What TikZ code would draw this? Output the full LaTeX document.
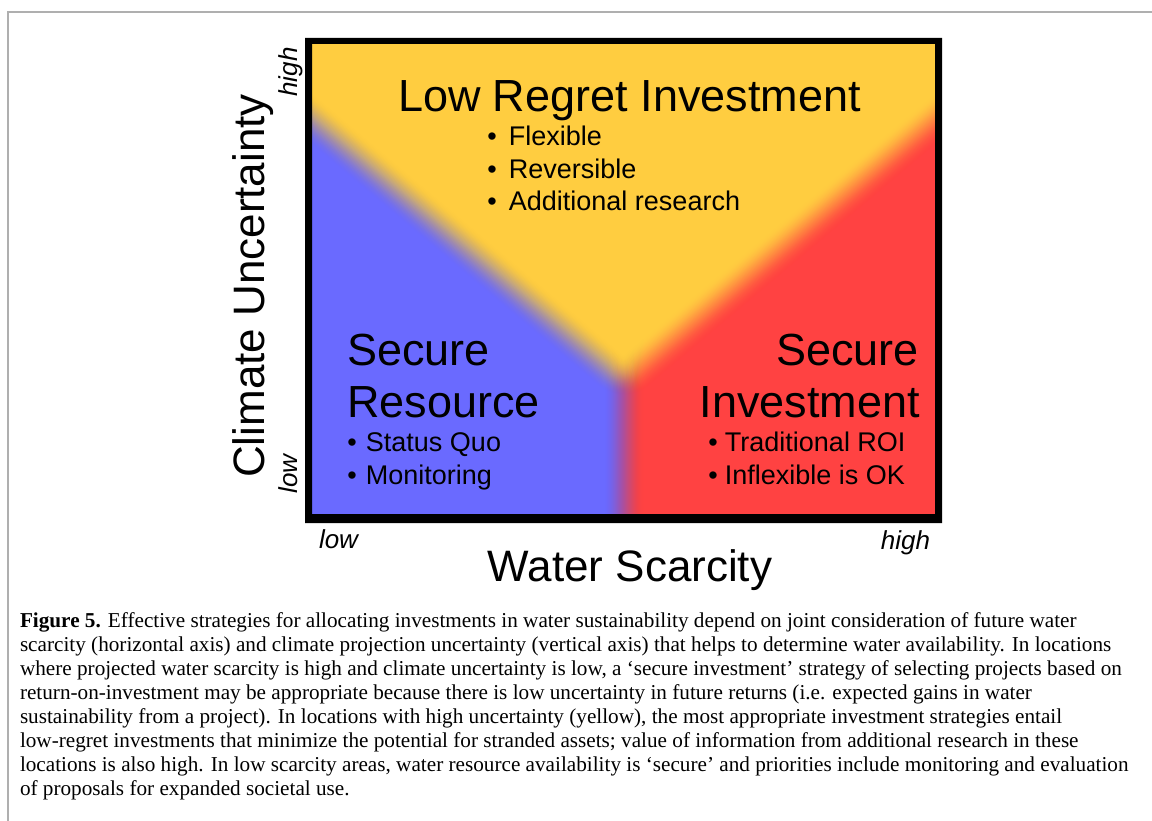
\documentclass[tikz,border=0pt]{standalone}
\usepackage{fontspec}
\setmainfont{Liberation Serif}
\newfontfamily\arialfont{Liberation Sans}
\definecolor{zoneyellow}{RGB}{255,205,64}
\definecolor{zoneblue}{RGB}{106,106,255}
\definecolor{zonered}{RGB}{255,66,66}
\definecolor{pageline}{RGB}{175,175,175}
\newcommand\bulgap[1]{\textbullet\hspace{#1pt}}
% smoothstep opacity for layer k of 40 soft-edge strokes
\newcommand\softop[1]{1-(3*((#1-0.5)/40)^2-2*((#1-0.5)/40)^3)/(3*(min(1,(#1+0.5)/40))^2-2*(min(1,(#1+0.5)/40))^3)}
\begin{document}
\begin{tikzpicture}[x=1pt,y=-1pt,
  every node/.style={inner sep=0pt, outer sep=0pt},
  heading/.style={font=\arialfont\fontsize{45}{45}\selectfont},
  bulletline/.style={font=\arialfont\fontsize{27}{27}\selectfont, anchor=base west},
  axislabel/.style={font=\arialfont\fontsize{44}{44}\selectfont},
  ticklabel/.style={font=\arialfont\itshape\fontsize{26}{26}\selectfont},
  captionline/.style={font=\fontsize{21.2}{21.2}\selectfont, anchor=base west},
  softedge/.style={line join=round, line cap=round},
]
\useasboundingbox (0,0) rectangle (1152,821);

% page rule (top and left)
\draw[pageline, line width=1.3pt] (8,821) -- (8,12) -- (1152,12);

% ---- coloured quadrants with soft boundaries ----
\begin{scope}
  \clip (312,44) rectangle (935,514);
  \fill[zoneblue] (312,44) rectangle (935,514);
  % red zone (right of the vertical split), blurred outward
  \fill[zonered] (643.5,-100) rectangle (1100,700);
  \foreach \k [evaluate=\k as \op using {\softop{\k}}, evaluate=\k as \lw using 2*\k] in {40,39,...,1}
    \draw[zonered, softedge, line width=\lw pt, opacity=\op] (643.5,-100) rectangle (1100,700);
  % yellow V (low regret zone), blurred outward
  \fill[zoneyellow] (200,-0.2) -- (623.5,355.9) -- (1047,-0.2) -- (1047,-100) -- (200,-100) -- cycle;
  \foreach \k [evaluate=\k as \op using {\softop{\k}}, evaluate=\k as \lw using 2*\k] in {40,39,...,1}
    \draw[zoneyellow, softedge, line width=\lw pt, opacity=\op]
      (200,-0.2) -- (623.5,355.9) -- (1047,-0.2) -- (1047,-100) -- (200,-100) -- cycle;
\end{scope}

% black frame
\fill[black, even odd rule] (305,38) rectangle (942,523) (312,44) rectangle (935,514);

% ---- zone texts ----
\node[heading, anchor=base west] (lowregret) at (398,112) {Low Regret Investment};
\node[bulletline] (flex) at (487.3,146) {\bulgap{12.2}Flexible};
\node[bulletline] (rev)  at (487.3,179) {\bulgap{12.2}Reversible};
\node[bulletline] (addr) at (487.3,211) {\bulgap{12.2}Additional research};

\node[heading, anchor=base west] (secres1) at (347,365) {Secure};
\node[heading, anchor=base west] (secres2) at (347,417) {Resource};
\node[bulletline] (statq) at (347.3,451) {\bulgap{9.2}Status Quo};
\node[bulletline] (monit) at (347.3,484) {\bulgap{9.2}Monitoring};

\node[heading, anchor=base east] (secinv1) at (919,365) {Secure};
\node[heading, anchor=base east] (secinv2) at (920,417) {Investment};
\node[bulletline] (troi) at (708.3,451) {\bulgap{7.2}Traditional ROI};
\node[bulletline] (infl) at (708.3,484) {\bulgap{7.2}Inflexible is OK};

% ---- axes ----
\node[axislabel, rotate=90, anchor=base] (yaxis) at (264,286) {Climate Uncertainty};
\node[axislabel, anchor=base] (xaxis) at (630,581) {Water Scarcity};
\node[ticklabel, rotate=90, anchor=base] (yhigh) at (297,72) {high};
\node[ticklabel, rotate=90, anchor=base] (ylow) at (297,474) {low};
\node[ticklabel, anchor=base west] (xlow) at (319,548) {low};
\node[ticklabel, anchor=base east] (xhigh) at (930,549) {high};

% ---- caption ----
\node[captionline] (cap1) at (20,627.0) {\textbf{Figure 5.} Effective strategies for allocating investments in water sustainability depend on joint consideration of future water};
\node[captionline] (cap2) at (20,651.1) {scarcity (horizontal axis) and climate projection uncertainty (vertical axis) that helps to determine water availability. In locations};
\node[captionline] (cap3) at (20,675.2) {where projected water scarcity is high and climate uncertainty is low, a ‘secure investment’ strategy of selecting projects based on};
\node[captionline] (cap4) at (20,699.3) {return-on-investment may be appropriate because there is low uncertainty in future returns (i.e. expected gains in water};
\node[captionline] (cap5) at (20,723.4) {sustainability from a project). In locations with high uncertainty (yellow), the most appropriate investment strategies entail};
\node[captionline] (cap6) at (20,747.5) {low-regret investments that minimize the potential for stranded assets; value of information from additional research in these};
\node[captionline] (cap7) at (20,771.6) {locations is also high. In low scarcity areas, water resource availability is ‘secure’ and priorities include monitoring and evaluation};
\node[captionline] (cap8) at (20,795.7) {of proposals for expanded societal use.};
\end{tikzpicture}
\end{document}
